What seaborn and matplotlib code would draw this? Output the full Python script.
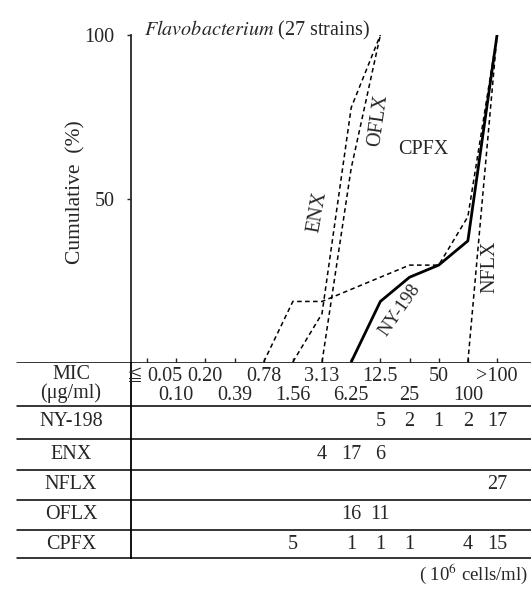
import numpy as np
import matplotlib
matplotlib.use("Agg")
import matplotlib.pyplot as plt
import seaborn as sns

# MIC classes (ug/ml) and number of strains per class
mic_top = ["≦0.05", "0.20", "0.78", "3.13", "12.5", "50", ">100"]
mic_bottom = ["0.10", "0.39", "1.56", "6.25", "25", "100"]
drugs = ["NY-198", "ENX", "NFLX", "OFLX", "CPFX"]
ny198 = [0, 0, 0, 0, 0, 0, 0, 0, 5, 2, 1, 2, 17]
enx = [0, 0, 0, 0, 0, 0, 4, 17, 6, 0, 0, 0, 0]
nflx = [0, 0, 0, 0, 0, 0, 0, 0, 0, 0, 0, 0, 27]
oflx = [0, 0, 0, 0, 0, 0, 0, 16, 11, 0, 0, 0, 0]
cpfx = [0, 0, 0, 0, 0, 5, 0, 1, 1, 1, 0, 4, 15]
counts = [ny198, enx, nflx, oflx, cpfx]
n_strains = 27

sns.set_style("ticks")
plt.rcParams['font.family'] = ['Liberation Serif', 'Noto Sans CJK JP', 'DejaVu Sans']
plt.rcParams['mathtext.fontset'] = 'stix'
FS = 14.5

W, H = 531, 592
fig = plt.figure(figsize=(W / 100, H / 100), dpi=100)

# pixel layout helpers
x0, step = 147, 29.17
ax = fig.add_axes([131 / W, (H - 362) / H, (W - 131) / W, (362 - 35) / H])
ax.set_xlim((131 - x0) / step, (W - x0) / step)
ax.set_ylim(0, 100)

for name, c in zip(drugs, counts):
    c = np.array(c)
    cum = np.cumsum(c) / n_strains * 100
    first = np.nonzero(c)[0][0]
    last = np.nonzero(cum >= 99.9)[0][0]
    idx = np.arange(max(first - 1, 0), last + 1)
    if name == "NY-198":
        sns.lineplot(x=idx, y=cum[idx], ax=ax, color="black", lw=2.0)
    else:
        sns.lineplot(x=idx, y=cum[idx], ax=ax, color="black", lw=1.1,
                     linestyle=(0, (3, 2.2)))

sns.despine(ax=ax, bottom=True, right=True, top=True)
ax.spines['left'].set_linewidth(1.3)
ax.set_xticks(range(13))
ax.set_xticklabels([])
ax.tick_params(axis='x', direction='in', length=3, width=1, bottom=True, pad=0)
ax.set_yticks([50, 100])
ax.set_yticklabels(["50", "100"], fontsize=FS)
ax.tick_params(axis='y', direction='out', length=3, width=1, pad=9)
ax.set_xlabel("")
ax.set_ylabel("Cumulative  (%)", fontsize=FS + 1)
ax.yaxis.set_label_coords(-0.115, 0.52)
ax.text(-0.1, 101.5, r"$\it{Flavobacterium}$ (27 strains)", fontsize=FS,
        ha='left', va='center', clip_on=False)

# labels on the curves
ax.text(5.86, 46, "ENX", rotation=80, ha='center', va='center', fontsize=FS)
ax.text(7.92, 74, "OFLX", rotation=82, ha='center', va='center', fontsize=FS)
ax.text(9.46, 65, "CPFX", rotation=0, ha='center', va='center', fontsize=FS)
ax.text(8.67, 16, "NY-198", rotation=55, ha='center', va='center', fontsize=FS - 1)
ax.text(11.76, 29, "NFLX", rotation=90, ha='center', va='center', fontsize=FS)

# table below the plot, y in pixel rows
tab = fig.add_axes([0, (H - 559) / H, 1, (559 - 362) / H])
tab.set_xlim(-x0 / step, (W - x0) / step)
tab.set_ylim(559, 362)
tab.axis('off')
xl = (17 - x0) / step
xr = (W - x0) / step
xv = (131 - x0) / step
xlab = (71 - x0) / step
for yy in [362.5, 406, 439, 470, 500, 530, 558.5]:
    tab.plot([xl, xr], [yy, yy], color="black", lw=1.1)
tab.plot([xv, xv], [362, 559], color="black", lw=1.3)

tab.text(xlab, 375, "MIC", ha='center', va='center', fontsize=FS)
tab.text(xlab, 393, "(μg/ml)", ha='center', va='center', fontsize=FS)
for i, lab in enumerate(mic_top):
    if lab.startswith("≦"):
        tab.text(2 * i - 0.42, 377, lab[0], ha='center', va='center',
                 fontsize=FS - 3, family='Noto Sans CJK JP')
        tab.text(2 * i + 0.62, 377, lab[1:], ha='center', va='center', fontsize=FS)
    else:
        tab.text(2 * i, 377, lab, ha='center', va='center', fontsize=FS)
for i, lab in enumerate(mic_bottom):
    tab.text(2 * i + 1, 396, lab, ha='center', va='center', fontsize=FS)

row_y = [422, 455, 485, 515, 545]
for name, c, yy in zip(drugs, counts, row_y):
    tab.text(xlab, yy, name, ha='center', va='center', fontsize=FS)
    for i, v in enumerate(c):
        if v:
            tab.text(i, yy, str(v), ha='center', va='center', fontsize=FS)

fig.text(0.995, 1 - 574 / H, r"( 10$^6$ cells/ml)", fontsize=FS - 1,
         ha='right', va='center')

fig.savefig("out.png", dpi=100)
